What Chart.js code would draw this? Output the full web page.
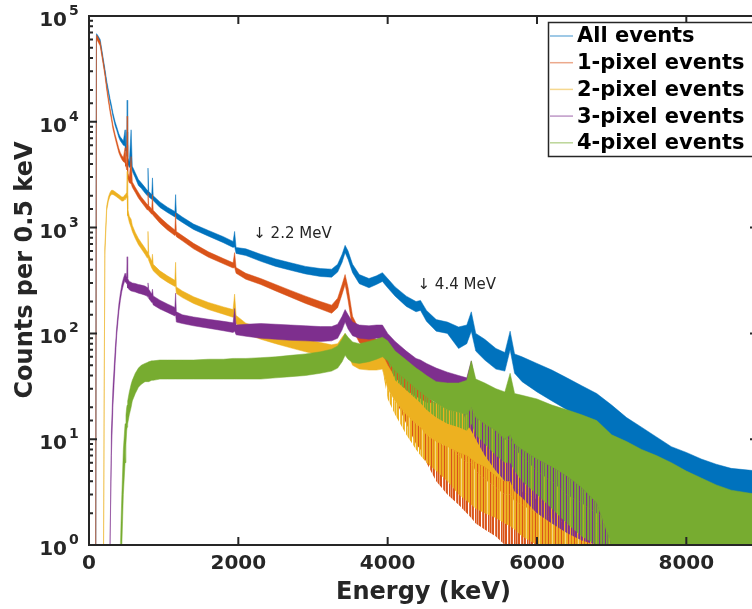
<!DOCTYPE html>
<html>
<head>
<meta charset="utf-8">
<script src="https://cdn.jsdelivr.net/npm/chart.js@4.4.1/dist/chart.umd.min.js"></script>
<style>
  html, body { margin: 0; padding: 0; background: #fff; overflow: hidden; width: 752px; height: 609px; }
  #wrap { position: relative; width: 762px; height: 609px; }
</style>
</head>
<body>
<div id="wrap"><canvas id="c" width="762" height="609"></canvas></div>
<script>
// Energy grid (keV) shared by all spectra
const energies = [
  90, 100, 110, 150, 195, 212, 237, 260, 282, 300, 320, 350,
  371, 400, 420, 440, 460, 483, 495, 505, 511, 518, 540, 564,
  580, 620, 662, 700, 750, 780, 790, 800, 840, 850, 860, 950,
  1050, 1150, 1160, 1170, 1250, 1400, 1600, 1800, 1930, 1950, 1970, 2100,
  2300, 2500, 2700, 2900, 3100, 3250, 3330, 3390, 3430, 3470, 3530, 3620,
  3750, 3850, 3930, 4000, 4100, 4250, 4380, 4440, 4520, 4650, 4800, 4950,
  5060, 5120, 5180, 5300, 5450, 5570, 5640, 5700, 5800, 6000, 6200, 6400,
  6600, 6800, 7000, 7200, 7400, 7600, 7800, 8000, 8200, 8400, 8600, 8960
];

// Counts per 0.5 keV: upper / lower edge of the dense trace, and the
// lowest level reached by sparse low-count bins (null = no sparse zone)
const allHi = [
  1, 68000, 67000, 60000, 38000, 32000, 24500, 20000, 16500, 14500, 12200, 10000,
  9000, 7700, 7200, 6900, 6600, 8400, 6000, 5300, 16000, 4600, 4200, 8400,
  3800, 3300, 2850, 2650, 2400, 2250, 3650, 2200, 2050, 2950, 2000, 1750,
  1560, 1420, 2050, 1380, 1260, 1080, 940, 820, 740, 920, 650, 630,
  560, 505, 465, 430, 410, 405, 450, 560, 680, 600, 450, 360,
  330, 350, 375, 330, 275, 225, 200, 205, 165, 135, 128, 115,
  120, 160, 100, 88, 72, 66, 105, 64, 60, 52, 45, 38,
  32, 27, 21, 16, 13, 10.5, 8.5, 7.5, 6.5, 5.8, 5.3, 5
];
const allLo = [
  1, 62000, 61000, 55000, 35000, 29500, 22500, 18500, 15200, 13400, 11300, 9200,
  8300, 7100, 6600, 6300, 6000, 5900, 5300, 4700, 8000, 4000, 3700, 3800,
  3400, 2950, 2500, 2350, 2120, 2000, 2050, 1950, 1850, 1850, 1800, 1550,
  1390, 1260, 1300, 1220, 1120, 960, 830, 720, 650, 660, 570, 545,
  480, 430, 395, 365, 345, 340, 380, 470, 580, 500, 375, 295,
  270, 290, 310, 270, 225, 180, 160, 165, 130, 105, 100, 72,
  80, 105, 68, 56, 46, 44, 70, 42, 35, 28, 23, 19,
  15, 12, 9, 7, 5.5, 4.5, 4, 3.2, 2.8, 2.5, 2.2, 2
];

const onePixHi = [
  1, 66000, 65000, 57000, 36000, 30000, 22000, 17000, 13500, 11500, 9400, 7600,
  6700, 5600, 5100, 4800, 4600, 5700, 4200, 3900, 11300, 3300, 3000, 4700,
  2700, 2400, 2150, 1950, 1760, 1650, 2140, 1620, 1500, 2050, 1460, 1250,
  1080, 950, 1370, 920, 840, 710, 590, 510, 465, 580, 420, 370,
  330, 290, 255, 225, 200, 185, 215, 290, 360, 270, 145, 108,
  95, 88, 85, 72, 56, 42, 33, 30, 26, 21, 17, 14,
  12, 26, 10, 9, 7.5, 6.5, 8, 6, 5.5, 4.6, 4, 3.5,
  3.1, 2.9, 2.7, 2.6, 2.5, 2.4, 2.3, 2.2, 2.2, 2.1, 2.1, 2
];
const onePixLo = [
  1, 60000, 59000, 52000, 33000, 27500, 20000, 15500, 12300, 10500, 8600, 7000,
  6100, 5100, 4700, 4400, 4200, 4100, 3800, 3500, 6000, 2900, 2650, 2600,
  2400, 2150, 1900, 1750, 1570, 1470, 1480, 1440, 1340, 1340, 1300, 1100,
  950, 840, 860, 820, 750, 630, 525, 455, 415, 420, 370, 325,
  290, 252, 220, 192, 170, 155, 175, 235, 290, 205, 110, 82,
  70, 63, 58, 48, 36, 26, 21, 19, 16, 12, 9, 7,
  6, 6, 5, 4.2, 3.5, 3, 3, 2.6, 2.4, 2, 1.8, 1.6,
  1.5, 1.4, 1.35, 1.3, 1.3, 1.3, 1.3, 1.3, 1.3, 1.3, 1.3, 1.3
];
const onePixFloor = [
  null, null, null, null, null, null, null, null, null, null, null, null,
  null, null, null, null, null, null, null, null, null, null, null, null,
  null, null, null, null, null, null, null, null, null, null, null, null,
  null, null, null, null, null, null, null, null, null, null, null, null,
  null, null, null, null, null, null, null, null, null, null, null, null,
  null, null, null, 35, 24, 14, 9, 8, 6, 4, 3, 2.4,
  2, 1.8, 1.6, 1.4, 1.2, 1, 1, 1, 1, 1, 1, 1,
  1, 1, 1, 1, 1, 1, 1, 1, 1, 1, 1, 1
];

const twoPixHi = [
  null, null, null, null, 1, 650, 1600, 1950, 2150, 2250, 2250, 2180,
  2120, 2050, 2000, 1950, 1950, 2050, 2100, 2150, 3400, 1500, 1280, 1200,
  1050, 900, 790, 720, 640, 590, 920, 560, 480, 560, 450, 390,
  350, 318, 470, 275, 252, 222, 196, 178, 168, 235, 148, 125,
  112, 102, 94, 88, 82, 78, 80, 92, 100, 88, 72, 64,
  62, 62, 63, 50, 38, 29, 25, 24, 22, 22, 22, 22,
  20, 22, 18, 16, 13, 11, 11.5, 10, 9, 7.5, 6.5, 5.6,
  4.8, 4.4, 4.1, 3.9, 3.7, 3.6, 3.5, 3.4, 3.3, 3.2, 3.1, 3.0
];
const twoPixLo = [
  null, null, null, null, 1, 550, 1450, 1780, 1980, 2050, 2060, 2000,
  1950, 1880, 1830, 1780, 1780, 1850, 1900, 1900, 2000, 1300, 1120, 1000,
  920, 790, 690, 630, 560, 515, 530, 490, 415, 405, 390, 340,
  305, 278, 280, 238, 218, 192, 168, 152, 142, 145, 124, 100,
  88, 80, 73, 67, 62, 58, 60, 70, 76, 64, 50, 46,
  45, 45, 46, 30, 23, 17, 14, 13, 11, 9.5, 8.5, 7.5,
  7, 6.5, 6, 5.5, 4.5, 4, 4, 3.5, 3.2, 2.7, 2.3, 2,
  1.8, 1.6, 1.5, 1.4, 1.35, 1.3, 1.3, 1.3, 1.3, 1.3, 1.3, 1.3
];
const twoPixFloor = [
  null, null, null, null, null, null, null, null, null, null, null, null,
  null, null, null, null, null, null, null, null, null, null, null, null,
  null, null, null, null, null, null, null, null, null, null, null, null,
  null, null, null, null, null, null, null, null, null, null, null, null,
  null, null, null, null, null, null, null, null, null, null, null, null,
  null, null, null, 24, 17, 11, 8, 7, 6, 5, 4, 3,
  2.6, 2.4, 2.2, 2, 1.8, 1.6, 1.5, 1.4, 1.2, 1, 1, 1,
  1, 1, 1, 1, 1, 1, 1, 1, 1, 1, 1, 1
];

const threePixHi = [
  null, null, null, null, null, null, null, null, 1, 12, 30, 70,
  115, 190, 240, 290, 330, 370, 350, 340, 530, 330, 310, 305,
  300, 296, 290, 286, 280, 272, 300, 262, 236, 262, 226, 206,
  190, 176, 240, 160, 150, 143, 136, 130, 126, 172, 120, 122,
  124, 122, 120, 118, 116, 116, 122, 145, 168, 150, 128, 120,
  118, 120, 120, 100, 84, 68, 58, 56, 52, 47, 43, 40,
  38, 55, 32, 26, 20, 16, 18, 14, 12, 9.5, 7.5, 6,
  5, 4.3, 3.8, 3.4, 3.1, 2.9, 2.7, 2.5, 2.4, 2.3, 2.2, 2.1
];
const threePixLo = [
  null, null, null, null, null, null, null, null, 1, 7, 20, 52,
  95, 160, 205, 250, 285, 320, 305, 295, 300, 270, 258, 252,
  250, 246, 240, 236, 230, 224, 224, 214, 196, 196, 186, 170,
  158, 146, 150, 128, 124, 118, 112, 106, 102, 105, 97, 94,
  90, 88, 86, 85, 84, 85, 90, 108, 128, 110, 95, 90,
  88, 90, 88, 74, 62, 50, 41, 38, 35, 31, 28, 25,
  22, 22, 18, 15, 12, 10, 10, 8, 7, 5, 4, 3,
  2.5, 2, 1.7, 1.5, 1.4, 1.3, 1.25, 1.2, 1.2, 1.2, 1.2, 1.2
];
const threePixFloor = [
  null, null, null, null, null, null, null, null, null, null, null, null,
  null, null, null, null, null, null, null, null, null, null, null, null,
  null, null, null, null, null, null, null, null, null, null, null, null,
  null, null, null, null, null, null, null, null, null, null, null, null,
  null, null, null, null, null, null, null, null, null, null, null, null,
  null, null, null, null, null, null, null, null, null, null, null, null,
  14, 12, 10, 7, 5, 4, 4, 3.2, 2.8, 2, 1.6, 1.3,
  1.1, 1, 1, 1, 1, 1, 1, 1, 1, 1, 1, 1
];

const fourPixHi = [
  null, null, null, null, null, null, null, null, null, null, null, null,
  null, null, 1, 3, 8, 14, 17, 20, 21, 23, 28, 33,
  36, 42, 47, 50, 52, 53, 53, 54, 55, 55, 55, 56,
  56, 56, 56, 56, 56, 56, 57, 57, 58, 58, 58, 58,
  59, 60, 62, 64, 67, 71, 76, 88, 100, 92, 83, 80,
  84, 88, 92, 85, 68, 56, 47, 44, 40, 35, 34, 34,
  36, 55, 37, 34, 30, 28, 42, 27, 26, 24, 21, 19,
  17, 15, 11, 9.5, 8, 7, 6, 5, 4.3, 3.7, 3.3, 3
];
const fourPixLo = [
  null, null, null, null, null, null, null, null, null, null, null, null,
  null, null, 1, 1, 3, 6, 9, 12, 13, 14, 17, 20,
  23, 27, 31, 33, 35, 35, 35, 35, 36, 36, 36, 37,
  37, 37, 37, 37, 37, 37, 37, 37, 37, 37, 37, 37,
  37, 38, 39, 40, 42, 44, 47, 54, 62, 57, 53, 52,
  54, 57, 60, 55, 44, 36, 30, 28, 25, 22, 19, 18,
  17, 20, 16, 14, 12, 10, 11, 9, 8, 6.5, 5.5, 4.5,
  3.5, 2.5, 1, 1, 1, 1, 1, 1, 1, 1, 1, 1
];
const fourPixFloor = [
  null, null, null, null, null, null, null, null, null, null, null, null,
  null, null, null, null, null, null, null, null, null, null, null, null,
  null, null, null, null, null, null, null, null, null, null, null, null,
  null, null, null, null, null, null, null, null, null, null, null, null,
  null, null, null, null, null, null, null, null, null, null, null, null,
  null, null, null, null, 36, 29, 24, 22, 19, 16, 14, 13,
  12, 14, 11, 9, 7, 6, 6, 5, 4, 3, 2.2, 1.6,
  1.2, 1, 1, 1, 1, 1, 1, 1, 1, 1, 1, 1
];

const seriesNames = ['All events', '1-pixel events', '2-pixel events', '3-pixel events', '4-pixel events'];
const seriesColors = ['#0072BD', '#D95319', '#EDB120', '#7E2F8E', '#77AC30'];
const seriesHi = [allHi, onePixHi, twoPixHi, threePixHi, fourPixHi];
const seriesLo = [allLo, onePixLo, twoPixLo, threePixLo, fourPixLo];
const seriesFloor = [null, onePixFloor, twoPixFloor, threePixFloor, fourPixFloor];

const xTickValues = [0, 2000, 4000, 6000, 8000];
const markers = [
  { label: '\u2193 2.2 MeV', energy: 2200, counts: 800 },
  { label: '\u2193 4.4 MeV', energy: 4400, counts: 265 }
];

const INK = '#262626';
const FONT = '"DejaVu Sans", sans-serif';

function toPoints(vals, fallback) {
  const out = [];
  energies.forEach((e, i) => {
    const v = vals[i] != null ? vals[i] : (fallback ? fallback[i] : null);
    if (v != null) out.push({ x: e, y: v });
  });
  return out;
}
function tint(hex, a) {
  const n = parseInt(hex.slice(1), 16);
  return `rgba(${(n >> 16) & 255},${(n >> 8) & 255},${n & 255},${a})`;
}
// fine vertical hairline texture for the sparse, low-count part of a trace
const stripeAlpha = [1, 0.55, 1, 1, 0, 0.8, 1, 0.35, 1, 0.9, 0, 1, 0.6];
function stripes(hex, phase) {
  const n = stripeAlpha.length;
  const c = document.createElement('canvas');
  c.width = n; c.height = 4;
  const g = c.getContext('2d');
  for (let i = 0; i < n; i++) {
    g.fillStyle = tint(hex, stripeAlpha[(i + phase) % n]);
    g.fillRect(i, 0, 1, 4);
  }
  return g.createPattern(c, 'repeat');
}

const datasets = [];
seriesNames.forEach((name, s) => {
  const col = seriesColors[s];
  const edge = tint(col, 0.5);
  const common = { pointRadius: 0, tension: 0, order: 5 - s };
  if (seriesFloor[s]) {
    datasets.push({ ...common, label: name + ' (floor)', isEnvelope: true,
      data: toPoints(seriesFloor[s], seriesLo[s]), borderWidth: 0, fill: false });
    datasets.push({ ...common, label: name + ' (low)', isEnvelope: true,
      data: toPoints(seriesLo[s]), borderColor: edge, borderWidth: 1,
      backgroundColor: stripes(col, s * 4), fill: '-1' });
  } else {
    datasets.push({ ...common, label: name + ' (low)', isEnvelope: true,
      data: toPoints(seriesLo[s]), borderColor: edge, borderWidth: 1, fill: false });
  }
  datasets.push({ ...common, label: name, seriesColor: col,
    data: toPoints(seriesHi[s]), borderColor: edge, borderWidth: 1,
    backgroundColor: col, fill: '-1' });
});

const decor = {
  id: 'decor',
  afterDatasetsDraw(chart) {
    const { ctx, chartArea: a, scales: { x, y } } = chart;
    ctx.save();
    ctx.strokeStyle = INK;
    ctx.lineWidth = 2;
    ctx.strokeRect(a.left, a.top, a.right - a.left, a.bottom - a.top);
    ctx.beginPath();
    x.ticks.forEach(t => {
      const px = x.getPixelForValue(t.value);
      ctx.moveTo(px, a.bottom); ctx.lineTo(px, a.bottom - 8);
      ctx.moveTo(px, a.top); ctx.lineTo(px, a.top + 8);
    });
    y.ticks.forEach(t => {
      const lg = Math.log10(t.value);
      const len = Math.abs(lg - Math.round(lg)) < 1e-9 ? 8 : 4;
      const py = y.getPixelForValue(t.value);
      ctx.moveTo(a.left, py); ctx.lineTo(a.left + len, py);
      ctx.moveTo(a.right, py); ctx.lineTo(a.right - len, py);
    });
    ctx.stroke();
    ctx.restore();
  },
  afterDraw(chart) {
    const { ctx, chartArea: a, scales: { x, y } } = chart;
    ctx.save();
    ctx.fillStyle = INK;

    // decade labels 10^n on the log axis
    y.ticks.forEach(t => {
      const lg = Math.log10(t.value);
      if (Math.abs(lg - Math.round(lg)) > 1e-9) return;
      const py = y.getPixelForValue(t.value);
      ctx.textBaseline = 'alphabetic';
      ctx.font = 'bold 20px ' + FONT;
      ctx.textAlign = 'right';
      ctx.fillText('10', a.left - 22, py + 10);
      ctx.font = 'bold 14px ' + FONT;
      ctx.textAlign = 'left';
      ctx.fillText(String(Math.round(lg)), a.left - 20, py - 1);
    });

    // axis titles
    ctx.font = 'bold 24px ' + FONT;
    ctx.textAlign = 'center';
    ctx.textBaseline = 'alphabetic';
    ctx.fillText('Energy (keV)', (a.left + a.right) / 2, 599);
    ctx.save();
    ctx.translate(32, 270);
    ctx.rotate(-Math.PI / 2);
    ctx.fillText('Counts per 0.5 keV', 0, 0);
    ctx.restore();

    // line markers
    ctx.font = '15px ' + FONT;
    ctx.textAlign = 'left';
    markers.forEach(m => {
      ctx.fillText(m.label, x.getPixelForValue(m.energy), y.getPixelForValue(m.counts));
    });

    // legend box in the upper right corner
    const bx = 548, by = 22, bw = 220, bh = 134, row = 26.7;
    ctx.fillStyle = '#fff';
    ctx.fillRect(bx, by, bw, bh);
    ctx.strokeStyle = INK;
    ctx.lineWidth = 1.5;
    ctx.strokeRect(bx + 0.5, by + 0.5, bw, bh);
    ctx.font = 'bold 21px ' + FONT;
    ctx.textBaseline = 'middle';
    chart.data.datasets.filter(d => !d.isEnvelope).forEach((d, i) => {
      const ly = by + 14 + i * row;
      ctx.strokeStyle = tint(d.seriesColor, 0.5);
      ctx.lineWidth = 1.5;
      ctx.beginPath();
      ctx.moveTo(bx + 2, ly); ctx.lineTo(bx + 25, ly);
      ctx.stroke();
      ctx.fillStyle = '#000';
      ctx.fillText(d.label, bx + 29, ly + 1);
    });
    ctx.restore();
  }
};

new Chart(document.getElementById('c'), {
  type: 'line',
  data: { datasets },
  options: {
    responsive: false,
    animation: false,
    devicePixelRatio: 1,
    layout: { padding: { top: 16, right: 4, left: 0, bottom: 0 } },
    plugins: { legend: { display: false }, tooltip: { enabled: false } },
    scales: {
      x: {
        type: 'linear', min: 0, max: 8960,
        grid: { display: false, drawTicks: false },
        border: { display: false },
        afterBuildTicks(s) { s.ticks = xTickValues.map(v => ({ value: v })); },
        ticks: {
          autoSkip: false, maxRotation: 0, padding: 7, color: INK,
          font: { family: FONT, size: 20, weight: 'bold' },
          callback: v => String(v)
        },
        afterFit(s) { s.height = 64; s.paddingRight = 0; s.paddingLeft = 0; }
      },
      y: {
        type: 'logarithmic', min: 1, max: 100000,
        grid: { display: false, drawTicks: false },
        border: { display: false },
        ticks: { display: false },
        afterFit(s) { s.width = 89; }
      }
    }
  },
  plugins: [decor]
});
</script>
</body>
</html>
